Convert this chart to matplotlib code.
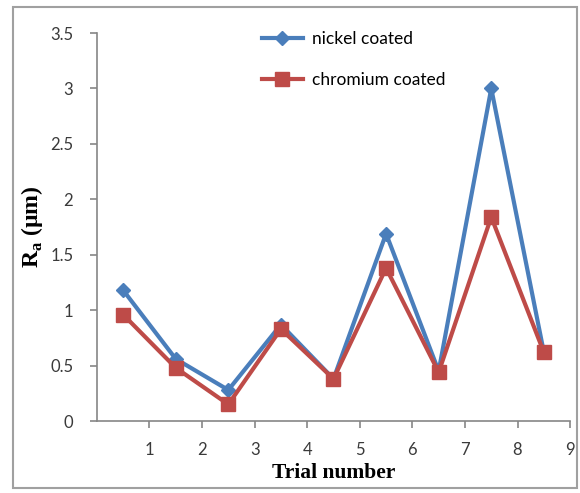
import numpy as np
import matplotlib
matplotlib.use("Agg")
import matplotlib.pyplot as plt
from matplotlib.patches import Rectangle

# trial positions (Excel style: points sit between ticks)
trials = [0.5, 1.5, 2.5, 3.5, 4.5, 5.5, 6.5, 7.5, 8.5]
nickel = [1.18, 0.56, 0.28, 0.87, 0.38, 1.69, 0.45, 3.0, 0.62]
chromium = [0.96, 0.48, 0.15, 0.83, 0.38, 1.38, 0.44, 1.84, 0.62]
xticks = [1, 2, 3, 4, 5, 6, 7, 8, 9]
yticks = [0, 0.5, 1, 1.5, 2, 2.5, 3, 3.5]

blue = '#4a7ebb'
red = '#be4b48'
grey = '#868686'

fig = plt.figure(figsize=(5.8, 4.93), dpi=100)
ax = fig.add_axes([0.167, 0.146, 0.816, 0.787])

ax.plot(trials, nickel, color=blue, lw=3, marker='D', ms=7.5, label='nickel coated')
ax.plot(trials, chromium, color=red, lw=3, marker='s', ms=10.5, label='chromium coated')

ax.set_xlim(0, 9)
ax.set_ylim(0, 3.5)
ax.set_xticks(xticks)
ax.set_yticks(yticks)
ax.set_yticklabels(['0', '0.5', '1', '1.5', '2', '2.5', '3', '3.5'])

for s in ['top', 'right']:
    ax.spines[s].set_visible(False)
for s in ['left', 'bottom']:
    ax.spines[s].set_color(grey)
    ax.spines[s].set_linewidth(1.2)
ax.tick_params(colors=grey, length=5, width=1.2, labelsize=12, labelcolor='#3a3a3a')
ax.tick_params(axis='x', pad=10)
ax.tick_params(axis='y', pad=12)
for lab in ax.get_xticklabels() + ax.get_yticklabels():
    lab.set_family('Lato')

ax.set_xlabel('Trial number', family='Liberation Serif', fontweight='bold', fontsize=15.5, labelpad=4)
ax.set_ylabel(r'R$_\mathregular{a}$ (µm)', family='Liberation Serif', fontweight='bold', fontsize=17, labelpad=4)

leg = ax.legend(loc='upper left', bbox_to_anchor=(0.315, 1.045), frameon=False,
                handlelength=2.4, handletextpad=0.5, labelspacing=1.45,
                prop={'family': 'Lato', 'size': 12.5})

# chart area border
fig.patches.append(Rectangle((13 / 580, 1 - 488 / 493), 564 / 580, 481 / 493,
                             transform=fig.transFigure, fill=False, edgecolor='#a0a0a0', lw=1.5))

fig.savefig('out.png', dpi=100)
